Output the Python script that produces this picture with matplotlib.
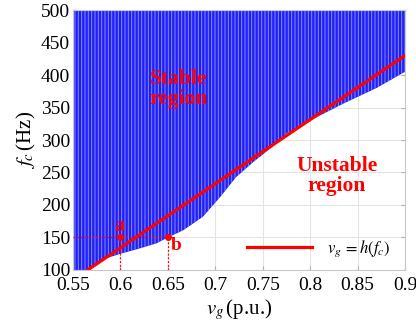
import matplotlib
matplotlib.use("Agg")
import matplotlib.pyplot as plt

plt.rcParams['font.family'] = ['Liberation Serif', 'DejaVu Serif']
plt.rcParams['mathtext.fontset'] = 'stix'
plt.rcParams['hatch.linewidth'] = 0.7

# Stability boundary (lower edge of stable region)
vg_boundary = [0.55, 0.564, 0.585, 0.600, 0.620, 0.638, 0.650, 0.666, 0.687,
               0.705, 0.722, 0.740, 0.758, 0.775, 0.800, 0.835, 0.870, 0.900]
fc_boundary = [100, 100, 118, 125, 133, 141, 150, 161, 182,
               212, 243, 266, 287, 310, 330, 356, 380, 405]
fc_top = 500

# v_g = h(f_c) line
vg_h = [0.5654, 0.900]
fc_h = [100, 430]

# marked points a and b
vg_pts = [0.60, 0.65]
fc_pts = [150, 150]
pt_labels = ['a', 'b']

xticks = [0.55, 0.6, 0.65, 0.7, 0.75, 0.8, 0.85, 0.9]
xtick_labels = ['0.55', '0.6', '0.65', '0.7', '0.75', '0.8', '0.85', '0.9']
yticks = [100, 150, 200, 250, 300, 350, 400, 450, 500]

fig = plt.figure(figsize=(4.16, 3.26), dpi=100)
ax = fig.add_axes([0.1755, 0.1718, 0.7981, 0.7975])

ax.fill_between(vg_boundary, fc_boundary, fc_top, facecolor=(0.12, 0.12, 0.97),
                edgecolor=(0.55, 0.55, 1.0), hatch='|||||', linewidth=0, zorder=2)

ax.plot(vg_h, fc_h, color='#ff0000', lw=2.3, zorder=4, label=r'$v_g\,=h(f_c)$')

# dotted guides
ax.plot([0.55, vg_pts[1]], [fc_pts[0], fc_pts[1]], color='#ff0000', lw=0.9, ls=(0, (1.5, 1.5)), zorder=3)
for xv, yv in zip(vg_pts, fc_pts):
    ax.plot([xv, xv], [100, yv], color='#ff0000', lw=0.9, ls=(0, (1.5, 1.5)), zorder=3)
ax.plot(vg_pts, fc_pts, 'o', color='#ff0000', ms=4, zorder=5)
ax.text(0.5995, 167, pt_labels[0], color='#ff0000', fontsize=15, fontweight='bold',
        ha='center', va='center', zorder=6)
ax.text(0.6586, 137, pt_labels[1], color='#ff0000', fontsize=14, fontweight='bold',
        ha='center', va='center', zorder=6)

ax.text(0.6617, 378, 'Stable\nregion', color='#ff0000', fontsize=15.5, fontweight='bold',
        ha='center', va='center', linespacing=1.0, zorder=6)
ax.text(0.828, 244, 'Unstable\nregion', color='#ff0000', fontsize=15.5, fontweight='bold',
        ha='center', va='center', linespacing=1.0, zorder=6)

ax.set_xlim(0.55, 0.9)
ax.set_ylim(100, 500)
ax.set_xticks(xticks)
ax.set_xticklabels(xtick_labels)
ax.set_yticks(yticks)
ax.tick_params(direction='in', length=3, color='#b0b0b0', labelsize=14, pad=2,
               right=True, top=True)
ax.tick_params(axis='x', pad=5)
ax.grid(True, color='#e4e4e4', lw=0.8, zorder=0)
ax.set_axisbelow(True)
for s in ax.spines.values():
    s.set_color('#c8c8c8')
    s.set_linewidth(0.8)

ax.set_xlabel(r'$v_g\,$(p.u.)', fontsize=15, labelpad=2)
ax.set_ylabel(r'$f_c\,$(Hz)', fontsize=15, labelpad=2)

leg = ax.legend(loc='center left', bbox_to_anchor=(0.524, 0.081), frameon=False,
                borderpad=0, borderaxespad=0, handlelength=3.9, handletextpad=0.9,
                fontsize=12)

fig.savefig('out.png', dpi=100)
